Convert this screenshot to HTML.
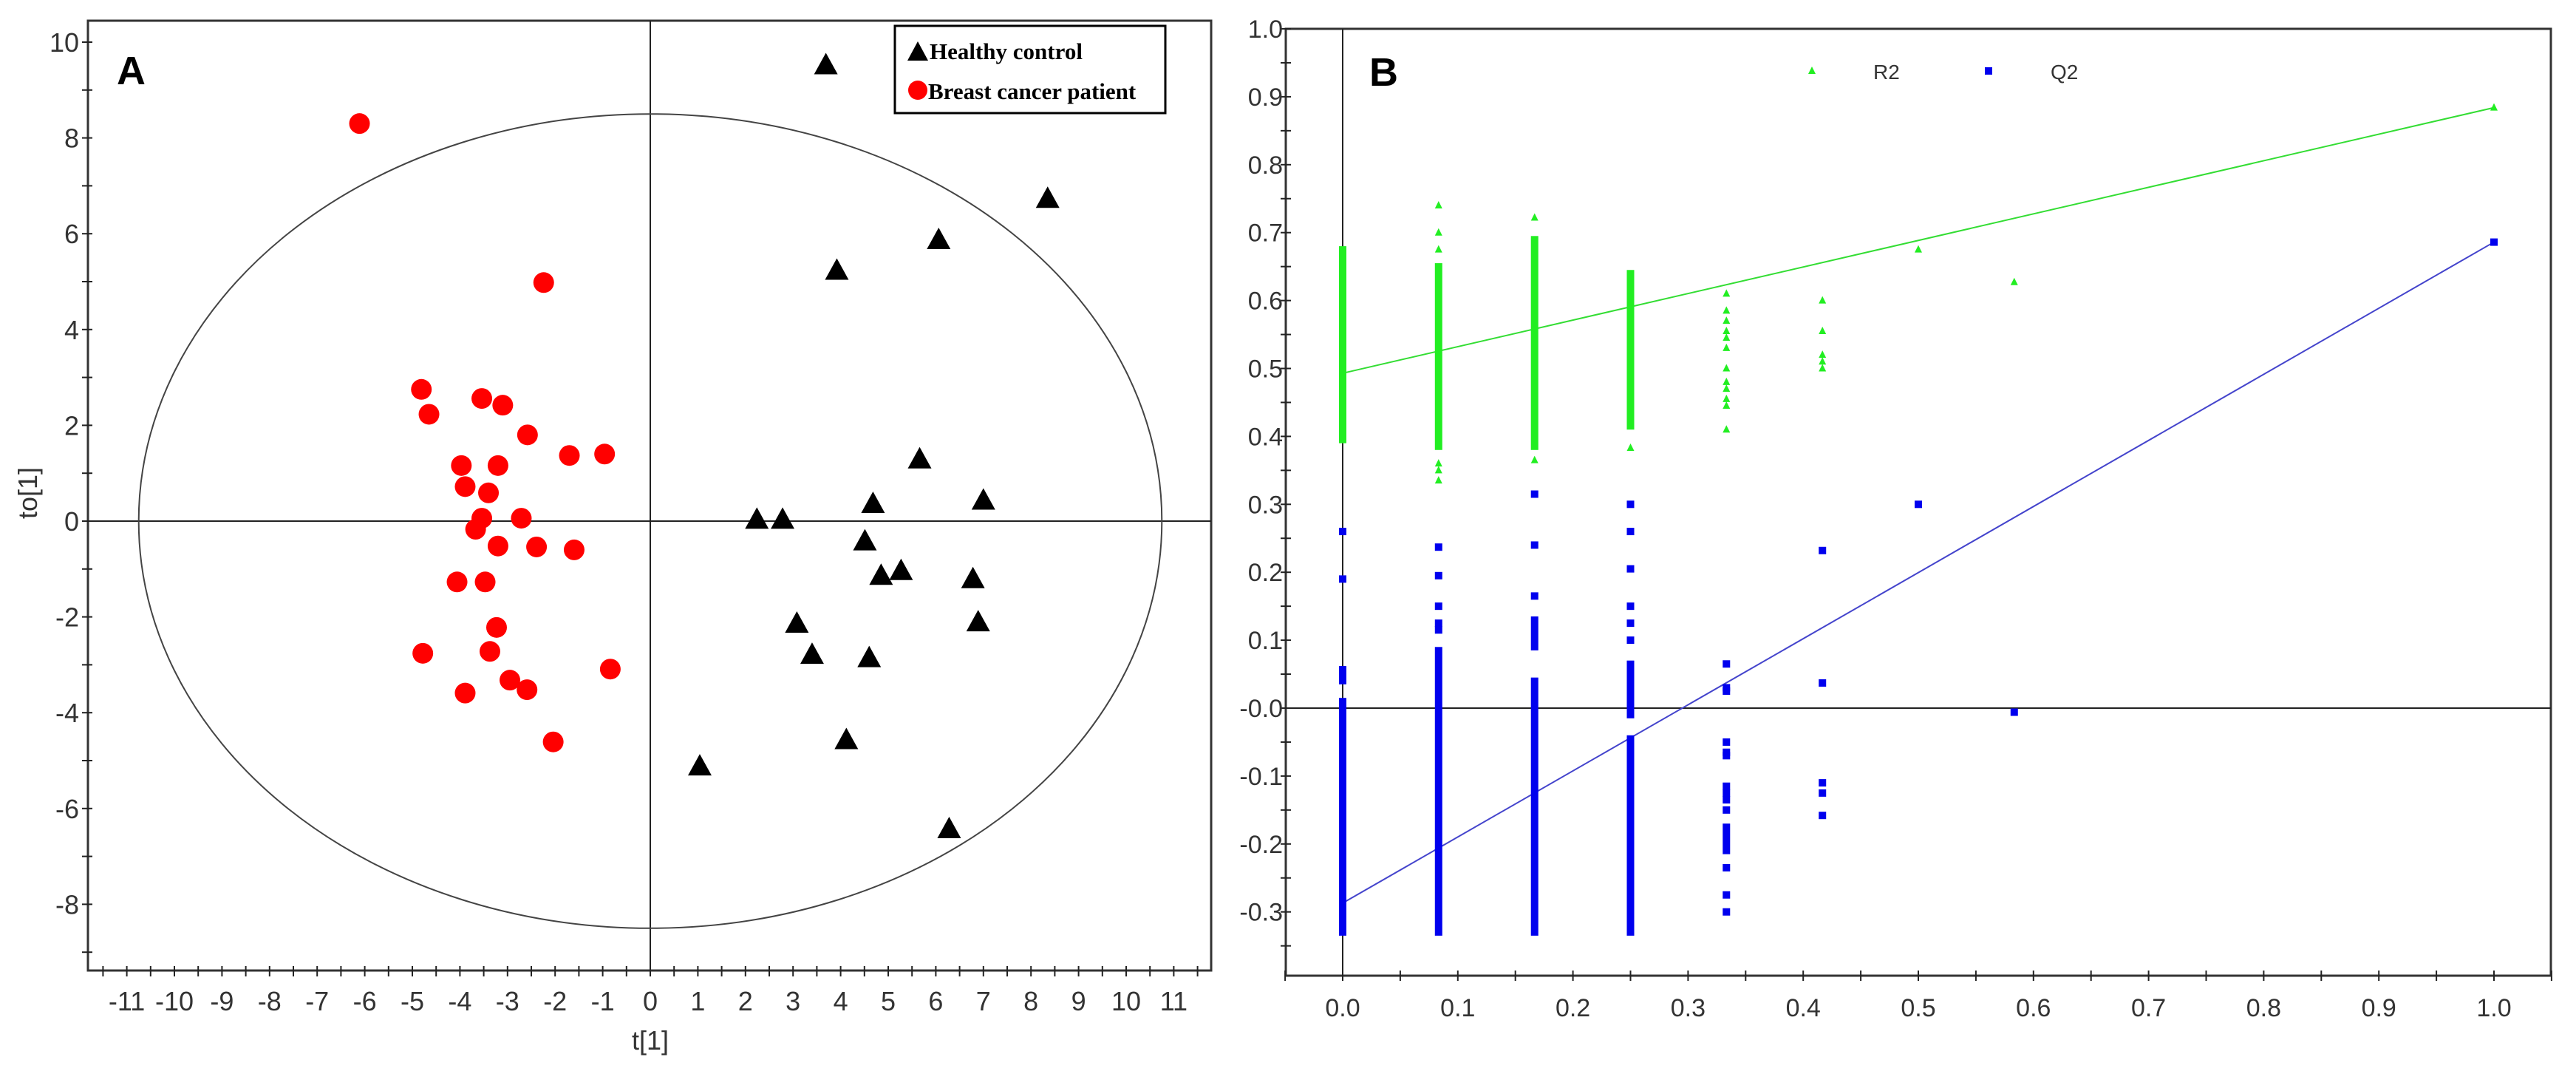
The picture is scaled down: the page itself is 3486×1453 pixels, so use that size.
<!DOCTYPE html>
<html><head><meta charset="utf-8"><style>
html,body{margin:0;padding:0;background:#fff;}
svg{display:block;font-family:"Liberation Sans",sans-serif;}
</style></head><body>
<svg id="fig" width="3486" height="1453" viewBox="0 0 3486 1453" xmlns="http://www.w3.org/2000/svg">
<g id="pa"></g>
<g id="pb"></g>
</svg>
<script>
// ---------- Panel A data ----------
const healthyT = [3.69,8.35,6.06,3.92,5.66,4.68,7.00,2.24,2.78,4.51,4.85,5.27,6.78,6.89,3.08,3.40,4.60,4.12,1.04,6.28];
const healthyTo = [9.53,6.74,5.88,5.24,1.30,0.37,0.44,0.04,0.04,-0.41,-1.13,-1.03,-1.20,-2.10,-2.13,-2.78,-2.85,-4.56,-5.11,-6.42];
const cancerT = [-6.11,-2.24,-4.81,-4.65,-3.54,-3.10,-2.58,-1.70,-0.96,-3.97,-3.20,-3.89,-3.40,-3.54,-3.67,-2.71,-3.20,-2.39,-1.60,-4.06,-3.47,-3.23,-3.37,-4.78,-0.84,-2.95,-2.59,-3.89,-2.04];
const cancerTo = [8.30,4.98,2.75,2.23,2.56,2.42,1.80,1.37,1.40,1.16,1.16,0.72,0.59,0.06,-0.17,0.06,-0.52,-0.54,-0.60,-1.27,-1.27,-2.22,-2.72,-2.76,-3.09,-3.32,-3.52,-3.59,-4.61];
const aXTickLabels = [-11,-10,-9,-8,-7,-6,-5,-4,-3,-2,-1,0,1,2,3,4,5,6,7,8,9,10,11];
const aYTickLabels = [-8,-6,-4,-2,0,2,4,6,8,10];
const ellipseRadii = [10.75, 8.5];

// ---------- Panel B data ----------
const permX = [0, 0.0833, 0.1667, 0.25, 0.3333, 0.4167, 0.5, 0.5833, 1.0];
const r2DenseLow  = [0.39, 0.38, 0.38, 0.41];
const r2DenseHigh = [0.68, 0.655, 0.695, 0.645];
const r2PointX = [0.0833,0.0833,0.0833,0.0833,0.0833,0.0833,0.1667,0.1667,0.25,
  0.3333,0.3333,0.3333,0.3333,0.3333,0.3333,0.3333,0.3333,0.3333,0.3333,0.3333,0.3333,
  0.4167,0.4167,0.4167,0.4167,0.4167,0.5,0.5833,1.0];
const r2PointY = [0.74,0.70,0.675,0.335,0.35,0.36,0.722,0.365,0.383,
  0.41,0.445,0.455,0.47,0.48,0.50,0.53,0.545,0.555,0.57,0.585,0.61,
  0.50,0.51,0.52,0.555,0.60,0.675,0.627,0.884];
const q2DenseX    = [0, 0, 0.0833, 0.1667, 0.1667, 0.25, 0.25, 0.3333];
const q2DenseLow  = [-0.335, 0.035, -0.335, -0.335, 0.085, -0.335, -0.015, -0.215];
const q2DenseHigh = [0.015, 0.062, 0.09, 0.045, 0.135, -0.04, 0.07, -0.17];
const q2PointX = [0,0,0.0833,0.0833,0.0833,0.0833,0.0833,0.1667,0.1667,0.1667,0.25,0.25,0.25,0.25,0.25,0.25,
  0.3333,0.3333,0.3333,0.3333,0.3333,0.3333,0.3333,0.3333,0.3333,0.3333,0.3333,0.3333,0.3333,
  0.4167,0.4167,0.4167,0.4167,0.4167,0.5,0.5833,1.0];
const q2PointY = [0.19,0.26,0.115,0.125,0.15,0.195,0.237,0.165,0.24,0.315,0.10,0.125,0.15,0.205,0.26,0.30,
  0.065,0.03,0.025,-0.05,-0.065,-0.07,-0.115,-0.125,-0.135,-0.15,-0.235,-0.275,-0.30,
  0.232,0.037,-0.11,-0.125,-0.158,0.30,-0.006,0.686];
const r2Line = [0.493, 0.884];
const q2Line = [-0.287, 0.686];
const bXTickLabels = [0,0.1,0.2,0.3,0.4,0.5,0.6,0.7,0.8,0.9,1.0];
const bYTickLabels = [-0.3,-0.2,-0.1,0.0,0.1,0.2,0.3,0.4,0.5,0.6,0.7,0.8,0.9,1.0];

const NS = "http://www.w3.org/2000/svg";
function mk(parent, tag, attrs, text) {
  const e = document.createElementNS(NS, tag);
  for (const k in attrs) e.setAttribute(k, attrs[k]);
  if (text !== undefined) e.textContent = text;
  parent.appendChild(e);
  return e;
}

// ===== Panel A =====
const pa = document.getElementById('pa');
const ax = v => 880 + v * 64.4;
const ay = v => 705 - v * 64.8;
const AL = 119, AR = 1639, AT = 28, AB = 1313;
let el;
el = mk(pa, 'rect', {x:AL, y:AT, width:AR-AL, height:AB-AT, fill:'none', stroke:'#333', 'stroke-width':3});


el = mk(pa, 'line', {x1:AL, x2:AR, y1:ay(0), y2:ay(0), stroke:'#222', 'stroke-width':2});


el = mk(pa, 'line', {x1:ax(0), x2:ax(0), y1:AT, y2:AB, stroke:'#222', 'stroke-width':2});


el = mk(pa, 'ellipse', {cx:ax(0), cy:ay(0), rx:ellipseRadii[0]*64.4, ry:ellipseRadii[1]*64.8, fill:'none', stroke:'#444', 'stroke-width':2});


// x ticks every 0.5
for (let v = -11.5; v <= 11.5001; v += 0.5) {
  el = mk(pa, 'line', {x1:ax(v), x2:ax(v), y1:AB-6, y2:AB+8, stroke:'#222', 'stroke-width':2});
  
  
}
aXTickLabels.forEach(v => {
  el = mk(pa, 'text', {x:ax(v), y:1367, 'font-size':36, fill:'#333', 'text-anchor':'middle'}, String(v));
  
  
});
for (let v = -9; v <= 10; v += 1) {
  el = mk(pa, 'line', {x1:AL-8, x2:AL+6, y1:ay(v), y2:ay(v), stroke:'#222', 'stroke-width':2});
  
  
}
aYTickLabels.forEach(v => {
  el = mk(pa, 'text', {x:AL-12, y:ay(v)+13, 'font-size':36, fill:'#333', 'text-anchor':'end'}, String(v));
  
  
});
el = mk(pa, 'text', {x:880, y:1420, 'font-size':36, fill:'#333', 'text-anchor':'middle'}, 't[1]');


el = mk(pa, 'text', {x:0, y:0, 'font-size':36, fill:'#333', 'text-anchor':'middle', transform:'translate(50,667) rotate(-90)'}, 'to[1]');


el = mk(pa, 'text', {x:158, y:114, 'font-size':54, 'font-weight':'bold', fill:'#000'}, 'A');


// points
cancerT.forEach((t, i) => {
  el = mk(pa, 'circle', {cx:ax(t), cy:ay(cancerTo[i]), r:14, fill:'#f00'});
  
  
});
healthyT.forEach((t, i) => {
  const x = ax(t), y = ay(healthyTo[i]);
  el = mk(pa, 'polygon', {points:`${x},${y-16} ${x-16},${y+13} ${x+16},${y+13}`, fill:'#000'});
  
  
});
// legend
el = mk(pa, 'g', {});


const lg = el;
mk(lg, 'rect', {x:1211, y:35, width:366, height:118, fill:'#fff', stroke:'#000', 'stroke-width':3});
el = mk(lg, 'polygon', {points:'1242,56 1228,82 1256,82', fill:'#000'});


el = mk(lg, 'text', {x:1258, y:80, 'font-size':31, 'font-weight':'bold', 'font-family':'"Liberation Serif",serif', fill:'#000'}, 'Healthy control');


el = mk(lg, 'circle', {cx:1242, cy:122, r:13, fill:'#f00'});


el = mk(lg, 'text', {x:1256, y:134, 'font-size':31, 'font-weight':'bold', 'font-family':'"Liberation Serif",serif', fill:'#000'}, 'Breast cancer patient');



// ===== Panel B =====
const pb = document.getElementById('pb');
const bx = v => 1817 + v * 1558;
const by = v => 958 - v * 919;
const BL = 1740, BR = 3452, BT = 39, BB = 1320;
el = mk(pb, 'rect', {x:BL, y:BT, width:BR-BL, height:BB-BT, fill:'none', stroke:'#333', 'stroke-width':3});


el = mk(pb, 'line', {x1:BL, x2:BR, y1:by(0), y2:by(0), stroke:'#222', 'stroke-width':2});


el = mk(pb, 'line', {x1:bx(0), x2:bx(0), y1:BT, y2:BB, stroke:'#222', 'stroke-width':2});


for (let i = -1; i <= 21; i++) {
  const v = i * 0.05;
  el = mk(pb, 'line', {x1:bx(v), x2:bx(v), y1:BB-7, y2:BB+7, stroke:'#222', 'stroke-width':2});
  
  
}
bXTickLabels.forEach(v => {
  el = mk(pb, 'text', {x:bx(v), y:1375, 'font-size':34, fill:'#333', 'text-anchor':'middle'}, v.toFixed(1));
  
  
});
for (let i = -7; i <= 20; i++) {
  const v = i * 0.05;
  el = mk(pb, 'line', {x1:BL-7, x2:BL+7, y1:by(v), y2:by(v), stroke:'#222', 'stroke-width':2});
  
  
}
bYTickLabels.forEach(v => {
  const s = (v <= 0 ? '-' : '') + Math.abs(v).toFixed(1);
  el = mk(pb, 'text', {x:BL-4, y:by(v)+12, 'font-size':34, fill:'#333', 'text-anchor':'end'}, s);
  
  
});
el = mk(pb, 'text', {x:1853, y:116, 'font-size':54, 'font-weight':'bold', fill:'#000'}, 'B');


// regression lines
el = mk(pb, 'line', {x1:bx(0), y1:by(r2Line[0]), x2:bx(1), y2:by(r2Line[1]), stroke:'#33dd33', 'stroke-width':2});


el = mk(pb, 'line', {x1:bx(0), y1:by(q2Line[0]), x2:bx(1), y2:by(q2Line[1]), stroke:'#4444cc', 'stroke-width':2});


// R2 dense
r2DenseLow.forEach((lo, i) => {
  el = mk(pb, 'rect', {x:bx(permX[i])-5, y:by(r2DenseHigh[i]), width:10, height:by(lo)-by(r2DenseHigh[i]), fill:'#22ee22'});
  
  
});
r2PointX.forEach((xv, i) => {
  const x = bx(xv), y = by(r2PointY[i]);
  el = mk(pb, 'polygon', {points:`${x},${y-6} ${x-5},${y+4} ${x+5},${y+4}`, fill:'#22ee22'});
  
  
});
q2DenseX.forEach((xv, i) => {
  el = mk(pb, 'rect', {x:bx(xv)-5, y:by(q2DenseHigh[i]), width:10, height:by(q2DenseLow[i])-by(q2DenseHigh[i]), fill:'#0000ee'});
  
  
});
q2PointX.forEach((xv, i) => {
  el = mk(pb, 'rect', {x:bx(xv)-5, y:by(q2PointY[i])-5, width:10, height:10, fill:'#0000ee'});
  
  
});
// legend B
el = mk(pb, 'polygon', {points:'2452,90 2447,100 2457,100', fill:'#22ee22'});


el = mk(pb, 'text', {x:2535, y:107, 'font-size':28, fill:'#333'}, 'R2');


el = mk(pb, 'rect', {x:2686, y:91, width:10, height:10, fill:'#0000ee'});


el = mk(pb, 'text', {x:2775, y:107, 'font-size':28, fill:'#333'}, 'Q2');


</script>
</body></html>
